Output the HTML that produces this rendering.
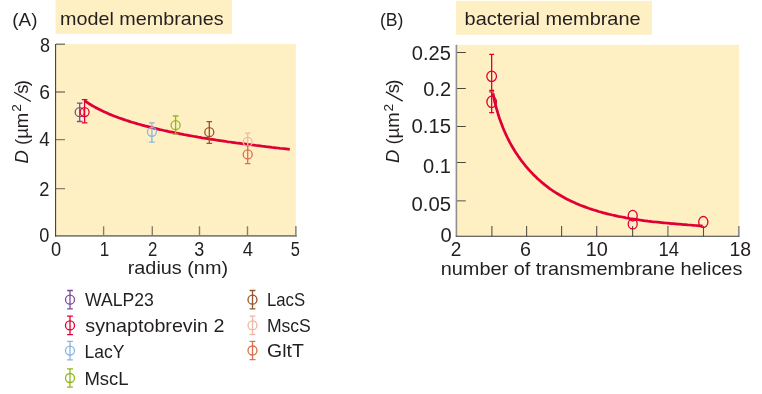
<!DOCTYPE html>
<html>
<head>
<meta charset="utf-8">
<title>Diffusion of membrane proteins</title>
<style>
  html, body { margin: 0; padding: 0; background: #ffffff; }
  body { width: 762px; height: 394px; overflow: hidden; }
  svg { display: block; will-change: transform; }
  text { font-family: "Liberation Sans", sans-serif; font-size: 18.5px; fill: #231f20; }
  .it { font-style: italic; }
  .ax { stroke: #3a3a3a; stroke-width: 1.05; fill: none; }
  .tk { stroke: #857f6c; stroke-width: 1.4; fill: none; }
  .cv { stroke: #e00034; stroke-width: 2.75; fill: none; stroke-linecap: butt; stroke-linejoin: round; }
  .mk { fill: none; stroke-width: 1.3; }
</style>
</head>
<body>
<svg width="762" height="394" viewBox="0 0 762 394">
  <defs>
    <g id="mkA">
      <path d="M0,-9.2V9.2M-2.9,-9.2H2.9M-2.9,9.2H2.9" />
      <circle cx="0" cy="0" r="4.5" />
    </g>
    <g id="ylab">
      <text x="-1.0" y="0"><tspan class="it">D</tspan> (µm</text>
      <text x="50.7" y="-6.7" style="font-size:13.7px">2</text>
      <path d="M61,3.4L70.2,-13.4" stroke="#231f20" stroke-width="1.3" fill="none"/>
      <text x="68.8" y="0">s</text>
      <text x="76.3" y="0">)</text>
    </g>
  </defs>

  <!-- ============ PANEL A ============ -->
  <rect x="55.5" y="0" width="176.6" height="33.9" fill="#fff0c4"/>
  <rect x="55.5" y="44.1" width="240.4" height="191.6" fill="#fff0c4"/>

  <!-- y ticks -->
  <path class="tk" d="M56,44.2H65M56,92H65M56,139.6H65M56,188.6H65"/>
  <!-- x ticks -->
  <path class="tk" d="M103.6,226.3V235.7M152.3,226.3V235.7M199.5,226.3V235.7M247.5,226.3V235.7"/>
  <path d="M295.85,226V236.6" stroke="#8e8e8a" stroke-width="1.7" fill="none"/>
  <!-- axes -->
  <path d="M55.1,235.9H296.7" stroke="#808080" stroke-width="1.6" fill="none"/>
  <path class="ax" d="M55.6,44V236.6"/>


  <use href="#ylab" transform="translate(27.5,162.5) rotate(-90)"/>

  <!-- fitted curve -->
  <path class="cv" d="M84.6,100.7 L86.0,101.7 L88.0,103.0 L90.0,104.3 L92.0,105.5 L94.0,106.6 L96.0,107.7 L98.0,108.8 L100.0,109.8 L102.0,110.8 L104.0,111.7 L106.0,112.6 L108.0,113.5 L110.0,114.4 L112.0,115.2 L114.0,116.0 L116.0,116.7 L118.0,117.5 L120.0,118.2 L122.0,118.9 L124.0,119.6 L126.0,120.3 L128.0,120.9 L130.0,121.6 L132.0,122.2 L134.0,122.8 L136.0,123.4 L138.0,124.0 L140.0,124.5 L142.0,125.1 L144.0,125.6 L146.0,126.2 L148.0,126.7 L150.0,127.2 L152.0,127.7 L154.0,128.2 L156.0,128.6 L158.0,129.1 L160.0,129.6 L162.0,130.0 L164.0,130.5 L166.0,130.9 L168.0,131.4 L170.0,131.8 L172.0,132.2 L174.0,132.6 L176.0,133.0 L178.0,133.4 L180.0,133.8 L182.0,134.2 L184.0,134.6 L186.0,134.9 L188.0,135.3 L190.0,135.7 L192.0,136.0 L194.0,136.4 L196.0,136.7 L198.0,137.1 L200.0,137.4 L202.0,137.8 L204.0,138.1 L206.0,138.4 L208.0,138.7 L210.0,139.1 L212.0,139.4 L214.0,139.7 L216.0,140.0 L218.0,140.3 L220.0,140.6 L222.0,140.9 L224.0,141.2 L226.0,141.5 L228.0,141.8 L230.0,142.0 L232.0,142.3 L234.0,142.6 L236.0,142.9 L238.0,143.1 L240.0,143.4 L242.0,143.7 L244.0,143.9 L246.0,144.2 L248.0,144.5 L250.0,144.7 L252.0,145.0 L254.0,145.2 L256.0,145.5 L258.0,145.7 L260.0,145.9 L262.0,146.2 L264.0,146.4 L266.0,146.7 L268.0,146.9 L270.0,147.1 L272.0,147.4 L274.0,147.6 L276.0,147.8 L278.0,148.0 L280.0,148.3 L282.0,148.5 L284.0,148.7 L286.0,148.9 L288.0,149.1 L289.8,149.3"/>

  <!-- data points -->
  <g class="mk" stroke="#7e4a9c">
    <path d="M79.7,103.1V121.5M76.9,103.1H82.5M76.9,121.5H82.5"/><circle cx="79.7" cy="112.2" r="4.5"/>
  </g>
  <g class="mk" stroke="#e00034">
    <path d="M84.6,99.6V122.8M81.8,99.6H87.4M81.8,122.8H87.4"/><circle cx="84.6" cy="112.1" r="4.5"/>
  </g>
  <g class="mk" stroke="#8ab4e0">
    <path d="M151.9,122.8V142.2M149.1,122.8H154.7M149.1,142.2H154.7"/><circle cx="151.9" cy="131.8" r="4.5"/>
  </g>
  <g class="mk" stroke="#8fb81c">
    <path d="M175.6,116V134.1M172.8,116H178.4M172.8,134.1H178.4"/><circle cx="175.6" cy="125.2" r="4.5"/>
  </g>
  <g class="mk" stroke="#96562a">
    <path d="M209.3,121.7V143.3M206.5,121.7H212.1M206.5,143.3H212.1"/><circle cx="209.3" cy="132.2" r="4.5"/>
  </g>
  <g class="mk" stroke="#f0b8a6">
    <path d="M247.7,133.2V150.7M244.9,133.2H250.5"/><circle cx="247.7" cy="141.9" r="4.5"/>
  </g>
  <g class="mk" stroke="#d9704e">
    <path d="M247.7,145.6V163.6M244.9,163.6H250.5"/><circle cx="247.7" cy="154.4" r="4.5"/>
  </g>

  <!-- legend -->
  <g class="mk">
    <use href="#mkA" x="70" y="299.7" stroke="#7e4a9c"/>
    <use href="#mkA" x="70" y="325.4" stroke="#e00034"/>
    <use href="#mkA" x="70" y="350.6" stroke="#8ab4e0"/>
    <use href="#mkA" x="70" y="378" stroke="#8fb81c"/>
    <use href="#mkA" x="252.5" y="299.7" stroke="#96562a"/>
    <use href="#mkA" x="252.5" y="325.3" stroke="#f0b8a6"/>
    <use href="#mkA" x="252.5" y="350.5" stroke="#d9704e"/>
  </g>

  <!-- ============ PANEL B ============ -->
  <rect x="456" y="0.8" width="196" height="34" fill="#fff0c4"/>
  <rect x="456" y="44.8" width="283" height="191.5" fill="#fff0c4"/>

  <!-- y ticks -->
  <path d="M457,52.5H465.8M457,88.5H465.8M457,126.5H465.8M457,162.5H465.8" stroke="#4a4842" stroke-width="1" fill="none"/>
  <path class="tk" d="M457,200.8H465.8"/>
  <!-- x ticks -->
  <path d="M491.9,226V236.2M526.6,226V236.2M561.6,226V236.2M596.7,226V236.2M632.6,226V236.2M703.5,226V236.2" stroke="#55524a" stroke-width="1.1" fill="none"/>
  <path class="tk" d="M667.9,226V236.2"/>
  <path d="M738.8,226V236.6" stroke="#8e8e8a" stroke-width="1.7" fill="none"/>
  <!-- axes -->
  <path d="M456.4,44.8V236.2" stroke="#8f8f8f" stroke-width="1.6" fill="none"/>
  <path d="M455.7,236.2H739.2" stroke="#3a3a3a" stroke-width="1.05" fill="none"/>


  <use href="#ylab" transform="translate(399.3,162.1) rotate(-90)"/>

  <!-- fitted curve -->
  <path class="cv" d="M493.0,93.3 L493.4,95.3 L493.8,97.2 L494.2,99.2 L494.6,101.1 L495.1,103.1 L495.6,105.0 L496.1,107.0 L496.6,108.9 L497.2,110.8 L497.7,112.7 L498.3,114.7 L498.9,116.6 L499.5,118.5 L500.2,120.3 L500.9,122.2 L501.6,124.1 L502.3,126.0 L503.0,127.8 L503.8,129.7 L504.6,131.5 L505.4,133.3 L506.2,135.2 L507.1,137.0 L508.0,138.8 L508.9,140.5 L509.8,142.3 L510.8,144.1 L511.7,145.8 L512.7,147.5 L513.8,149.3 L514.8,151.0 L515.9,152.7 L517.0,154.3 L518.1,156.0 L519.3,157.6 L520.4,159.2 L521.6,160.9 L522.8,162.4 L524.1,164.0 L525.3,165.6 L526.6,167.1 L527.9,168.6 L529.2,170.1 L530.6,171.6 L532.0,173.1 L533.3,174.5 L534.8,175.9 L536.2,177.3 L537.6,178.7 L539.1,180.0 L540.6,181.3 L542.1,182.7 L543.7,183.9 L545.2,185.2 L546.8,186.4 L548.4,187.6 L550.0,188.8 L551.7,190.0 L553.3,191.1 L555.0,192.2 L556.7,193.3 L558.4,194.3 L560.1,195.3 L561.8,196.3 L563.6,197.3 L565.3,198.2 L567.1,199.2 L568.9,200.1 L570.7,200.9 L572.5,201.8 L574.3,202.6 L576.1,203.4 L578.0,204.2 L579.8,205.0 L581.7,205.7 L583.6,206.4 L585.4,207.1 L587.3,207.8 L589.2,208.5 L591.1,209.1 L593.0,209.7 L594.9,210.3 L596.8,210.9 L598.7,211.5 L600.7,212.0 L602.6,212.6 L604.5,213.1 L606.5,213.6 L608.4,214.1 L610.3,214.5 L612.3,215.0 L614.2,215.4 L616.2,215.8 L618.2,216.3 L620.1,216.7 L622.1,217.0 L624.0,217.4 L626.0,217.8 L628.0,218.1 L629.9,218.5 L631.9,218.8 L633.9,219.1 L635.9,219.4 L637.8,219.7 L639.8,220.0 L641.8,220.3 L643.8,220.6 L645.8,220.8 L647.8,221.1 L649.7,221.3 L651.7,221.6 L653.7,221.8 L655.7,222.0 L657.7,222.2 L659.7,222.4 L661.7,222.6 L663.7,222.8 L665.7,223.0 L667.6,223.2 L669.6,223.4 L671.6,223.6 L673.6,223.7 L675.6,223.9 L677.6,224.1 L679.6,224.2 L681.6,224.4 L683.6,224.6 L685.6,224.7 L687.6,224.9 L689.6,225.0 L691.6,225.2 L693.6,225.3 L695.6,225.5 L697.5,225.6 L699.5,225.8 L701.5,225.9 L702.7,226.0"/>

  <!-- data points -->
  <g class="mk" stroke="#e00034" stroke-width="1.25">
    <path d="M491.65,54.3V90.4M489.2,54.3H494.1M489.2,90.4H494.1"/><ellipse cx="491.65" cy="76.35" rx="4.85" ry="5.2"/>
    <path d="M491.65,91.8V112.7M489.2,91.8H494.1M489.2,112.7H494.1"/><ellipse cx="491.65" cy="101.9" rx="4.75" ry="5.7"/>
    <ellipse cx="632.7" cy="215.7" rx="4.5" ry="5.3"/>
    <ellipse cx="632.7" cy="224" rx="4.5" ry="4.9"/>
    <ellipse cx="703.3" cy="222" rx="4.6" ry="5.5"/>
  </g>

  <!-- labels -->
  <text x="12.36" y="26.20" style="font-size:18.7px" textLength="25.09" lengthAdjust="spacingAndGlyphs">(A)</text>
  <text x="60.13" y="24.90" textLength="163.43" lengthAdjust="spacingAndGlyphs">model membranes</text>
  <text x="39.92" y="51.85" style="font-size:19.5px" textLength="10.03" lengthAdjust="spacingAndGlyphs">8</text>
  <text x="39.22" y="99.00" style="font-size:19.5px" textLength="10.76" lengthAdjust="spacingAndGlyphs">6</text>
  <text x="39.25" y="146.45" style="font-size:19.5px" textLength="10.49" lengthAdjust="spacingAndGlyphs">4</text>
  <text x="39.17" y="195.90" style="font-size:19.5px" textLength="10.16" lengthAdjust="spacingAndGlyphs">2</text>
  <text x="39.34" y="242.25" style="font-size:19.5px" textLength="10.08" lengthAdjust="spacingAndGlyphs">0</text>
  <text x="51.05" y="255.80" style="font-size:19.5px" textLength="10.15" lengthAdjust="spacingAndGlyphs">0</text>
  <text x="99.76" y="255.80" style="font-size:19.5px" textLength="9.47" lengthAdjust="spacingAndGlyphs">1</text>
  <text x="147.94" y="255.80" style="font-size:19.5px" textLength="9.37" lengthAdjust="spacingAndGlyphs">2</text>
  <text x="194.30" y="255.80" style="font-size:19.5px" textLength="10.00" lengthAdjust="spacingAndGlyphs">3</text>
  <text x="242.70" y="255.80" style="font-size:19.5px" textLength="10.24" lengthAdjust="spacingAndGlyphs">4</text>
  <text x="290.66" y="255.80" style="font-size:19.5px" textLength="9.14" lengthAdjust="spacingAndGlyphs">5</text>
  <text x="127.72" y="274.40" textLength="100.33" lengthAdjust="spacingAndGlyphs">radius (nm)</text>
  <text x="85.00" y="306.00" textLength="68.87" lengthAdjust="spacingAndGlyphs">WALP23</text>
  <text x="85.39" y="331.60" textLength="139.12" lengthAdjust="spacingAndGlyphs">synaptobrevin 2</text>
  <text x="84.46" y="357.60" textLength="39.91" lengthAdjust="spacingAndGlyphs">LacY</text>
  <text x="84.46" y="384.80" textLength="44.21" lengthAdjust="spacingAndGlyphs">MscL</text>
  <text x="266.98" y="306.00" textLength="38.12" lengthAdjust="spacingAndGlyphs">LacS</text>
  <text x="266.91" y="331.60" textLength="43.88" lengthAdjust="spacingAndGlyphs">MscS</text>
  <text x="266.97" y="357.40" textLength="36.84" lengthAdjust="spacingAndGlyphs">GltT</text>
  <text x="379.98" y="26.20" style="font-size:18.7px" textLength="23.53" lengthAdjust="spacingAndGlyphs">(B)</text>
  <text x="464.63" y="24.90" textLength="175.98" lengthAdjust="spacingAndGlyphs">bacterial membrane</text>
  <text x="411.75" y="60.15" style="font-size:19.5px" textLength="39.06" lengthAdjust="spacingAndGlyphs">0.25</text>
  <text x="423.30" y="95.65" style="font-size:19.5px" textLength="27.86" lengthAdjust="spacingAndGlyphs">0.2</text>
  <text x="411.52" y="133.20" style="font-size:19.5px" textLength="39.56" lengthAdjust="spacingAndGlyphs">0.15</text>
  <text x="423.08" y="172.60" style="font-size:19.5px" textLength="27.87" lengthAdjust="spacingAndGlyphs">0.1</text>
  <text x="411.52" y="210.90" style="font-size:19.5px" textLength="39.56" lengthAdjust="spacingAndGlyphs">0.05</text>
  <text x="440.55" y="242.10" style="font-size:19.5px" textLength="11.20" lengthAdjust="spacingAndGlyphs">0</text>
  <text x="450.85" y="255.80" style="font-size:19.5px" textLength="10.63" lengthAdjust="spacingAndGlyphs">2</text>
  <text x="520.08" y="255.80" style="font-size:19.5px" textLength="10.98" lengthAdjust="spacingAndGlyphs">6</text>
  <text x="585.65" y="255.80" style="font-size:19.5px" textLength="22.12" lengthAdjust="spacingAndGlyphs">10</text>
  <text x="658.38" y="255.80" style="font-size:19.5px" textLength="20.65" lengthAdjust="spacingAndGlyphs">14</text>
  <text x="729.49" y="255.80" style="font-size:19.5px" textLength="21.63" lengthAdjust="spacingAndGlyphs">18</text>
  <text x="440.74" y="275.00" textLength="301.61" lengthAdjust="spacingAndGlyphs">number of transmembrane helices</text>
</svg>
</body>
</html>
